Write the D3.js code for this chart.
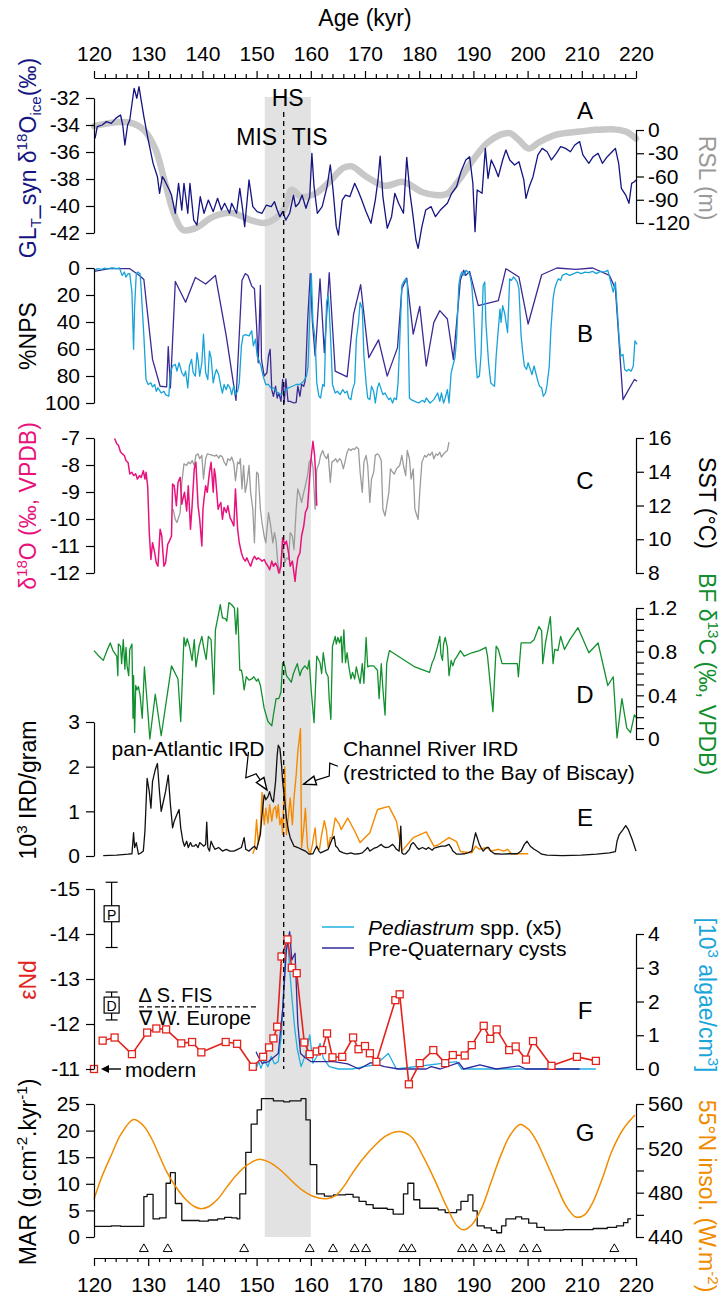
<!DOCTYPE html>
<html>
<head>
<meta charset="utf-8">
<script src="https://cdn.jsdelivr.net/npm/d3@7"></script>
<style>
  html, body { margin: 0; padding: 0; background: #fff; }
  svg { display: block; font-family: "Liberation Sans", Arial, sans-serif; }
  .axis path, .axis line { stroke: #000; stroke-width: 1.2; }
  .axis text { fill: #000; }
</style>
</head>
<body>
<div id="chart"></div>
<script>
// ---- data (age in kyr) ----
const ageMajor = d3.range(120, 221, 10);
const ageMinor = d3.range(120, 221, 2);

// A: GL_T_syn d18O ice (permil) and relative sea level (m)
const glSyn = [[120.2,-34.99],[120.6,-34.12],[121.5,-34.0],[122.3,-33.75],[123.2,-33.88],[124.0,-33.51],[124.9,-33.26],[125.3,-34.0],[125.7,-35.48],[126.2,-34.0],[126.6,-33.63],[127.4,-31.28],[127.9,-32.02],[128.3,-31.16],[128.7,-32.15],[129.2,-33.38],[130.0,-35.11],[130.9,-36.84],[131.7,-37.83],[132.1,-39.06],[132.6,-37.83],[133.0,-38.07],[133.9,-38.81],[134.3,-39.19],[135.0,-40.54],[135.6,-38.32],[136.2,-40.30],[136.6,-38.32],[137.3,-40.54],[137.7,-38.32],[138.4,-41.04],[139.0,-41.41],[139.6,-39.31],[140.3,-40.54],[141.1,-39.56],[142.0,-40.42],[142.8,-39.43],[143.5,-40.30],[144.1,-39.80],[145.0,-40.54],[145.4,-39.80],[146.3,-40.54],[146.9,-38.69],[147.4,-40.17],[147.8,-41.53],[148.6,-38.07],[149.3,-40.05],[150.1,-40.42],[151.0,-40.54],[151.8,-39.93],[152.7,-40.05],[153.3,-39.68],[153.8,-40.30],[154.3,-40.79],[154.8,-40.42],[155.4,-41.04],[156.1,-40.54],[156.8,-39.19],[157.2,-40.05],[157.8,-39.80],[158.4,-39.19],[159.1,-40.17],[159.8,-39.31],[160.2,-36.10],[160.6,-38.57],[161.2,-40.54],[162.1,-40.05],[163.0,-38.57],[163.6,-36.96],[164.1,-38.81],[164.7,-41.53],[165.1,-42.15],[165.8,-39.56],[166.4,-39.19],[167.2,-39.31],[168.1,-38.32],[168.8,-38.94],[169.4,-39.56],[170.2,-40.42],[171.1,-41.28],[171.9,-39.56],[172.4,-38.07],[172.8,-36.30],[173.3,-39.31],[174.1,-41.65],[174.9,-40.79],[175.5,-39.06],[176.2,-39.80],[177.1,-40.54],[177.7,-36.40],[178.3,-39.06],[178.8,-40.54],[179.4,-42.52],[179.8,-43.14],[180.5,-41.53],[181.2,-40.30],[182.2,-40.05],[183.0,-40.79],[183.9,-40.30],[185.2,-39.80],[186.0,-39.06],[186.9,-38.57],[187.7,-37.46],[188.6,-36.59],[189.3,-36.35],[189.9,-38.32],[190.3,-41.90],[190.7,-38.81],[191.6,-39.06],[192.2,-35.73],[192.7,-37.95],[193.3,-36.59],[194.0,-37.21],[194.6,-37.83],[195.4,-36.59],[196.0,-35.85],[196.7,-36.59],[197.6,-36.96],[198.4,-36.72],[199.3,-38.07],[199.7,-39.43],[200.3,-38.57],[201.0,-37.83],[201.9,-36.22],[202.7,-35.73],[203.6,-35.98],[204.4,-36.59],[205.3,-36.10],[206.1,-35.60],[207.0,-35.73],[207.9,-35.98],[208.7,-35.48],[209.6,-35.23],[210.2,-36.22],[211.3,-36.84],[212.1,-36.35],[213.0,-36.10],[213.8,-36.84],[214.7,-36.35],[215.6,-35.98],[216.2,-35.73],[216.8,-36.84],[217.3,-38.69],[218.1,-39.19],[218.7,-39.80],[219.2,-38.32],[219.7,-38.20],[220.0,-38.07]];
const rsl = [[120,5],[124,10],[127,9],[129.2,0],[131.3,-24],[133,-65],[134.7,-107],[136.4,-129],[138.6,-127],[142,-112],[145.4,-107],[148.8,-116],[151.4,-120],[153.5,-114],[155.2,-101],[156.5,-77],[158.2,-86],[160.8,-82],[163.4,-67],[166,-49],[167.6,-47],[170.2,-60],[173.6,-72],[177.1,-67],[180.5,-80],[183,-84],[185.2,-82],[187.3,-65],[189.9,-39],[192.5,-17],[195,-6],[196.7,-4],[198.4,-13],[200.2,-24],[202.3,-15],[205.3,-6],[209.6,-2],[212.1,0],[215.6,1],[218.1,-2],[220,-11]];

// B: %NPS, two records
const npsCyan = [[120.0,1.7],[120.7,0.5],[121.4,1],[122.0,0],[122.4,1],[123.1,0],[123.5,0],[124.2,0.5],[124.7,0],[125.2,5.5],[125.6,3],[125.9,6.7],[126.3,4.2],[126.6,4.2],[127.0,17.9],[127.3,60.2],[127.5,27.9],[127.8,4.2],[128.1,3],[128.5,4.2],[128.7,15.4],[129.2,50.3],[129.6,82.6],[130.0,86.3],[130.5,85.1],[130.8,88.1],[131.2,86.3],[131.5,91.3],[131.8,88.8],[132.4,92.6],[132.9,91.3],[133.2,93.8],[133.8,95],[134.1,77.6],[134.5,72.6],[135.0,71.4],[135.3,76.4],[135.7,70.2],[136.2,77.6],[136.6,80.1],[136.9,76.4],[137.3,88.8],[137.6,72.6],[138.0,67.7],[138.3,77.6],[138.7,80.1],[139.0,62.7],[139.2,67.7],[139.5,80.1],[139.9,70.2],[140.2,49],[140.6,77.6],[141.0,82.6],[141.3,61.5],[141.6,66.4],[142.0,85.1],[142.3,78.9],[142.6,75.1],[143.0,78.9],[143.4,87.6],[143.7,92.6],[144.0,86.3],[144.4,90.1],[144.7,86.3],[145.1,88.8],[145.4,93.8],[145.8,87.1],[146.1,93.8],[146.5,91.3],[146.8,85.1],[147.2,57.7],[147.5,50.3],[147.9,49.3],[148.6,50.3],[149.1,46.5],[149.4,57.7],[149.8,52.7],[150.1,65.2],[150.5,68.9],[150.8,72.6],[151.2,80.1],[151.7,86.3],[152.2,86.3],[152.6,88.8],[153.1,88.8],[153.6,91.3],[154.0,92.6],[154.5,93.8],[155.0,92.6],[155.4,90.1],[155.9,88.8],[156.6,87.6],[157.3,86.3],[158.0,86.3],[158.7,83.8],[159.2,80.1],[159.5,72.6],[159.9,22.9],[160.1,4.2],[160.4,40.3],[160.8,52.7],[161.1,85.1],[161.5,95],[161.8,96.3],[162.2,86.3],[162.5,87.6],[162.9,25.4],[163.2,20.4],[163.4,30.4],[163.8,65.2],[164.0,86.3],[164.5,92.6],[164.9,91.3],[165.4,93.8],[165.9,90.1],[166.3,92.6],[166.7,91.3],[167.0,96.3],[167.4,97.5],[167.7,90.1],[168.1,85.1],[168.4,52.7],[168.8,40.3],[169.1,25.4],[169.5,30.4],[169.8,65.2],[170.2,85.1],[170.5,96.3],[170.9,97.5],[171.2,87.6],[171.6,91.3],[171.9,100],[172.3,88.8],[172.6,85.1],[173.0,90.1],[173.3,93.8],[173.7,92.6],[174.0,95],[174.4,97.5],[174.7,96.3],[175.1,100],[175.4,96.3],[175.8,97.5],[176.1,85.1],[176.4,55.2],[176.8,12.9],[177.1,10.4],[177.5,8],[177.8,10.4],[178.2,96.3],[178.5,97.5],[179.2,98.8],[179.9,100],[180.6,98],[181.0,99.5],[181.3,96.3],[182.0,100],[182.7,97.5],[183.4,92.6],[183.8,98.8],[184.1,92.6],[184.5,100],[184.8,96.3],[185.2,90.1],[185.5,100],[185.9,77.6],[186.2,72.6],[186.6,66.4],[186.9,52.7],[187.3,12.9],[187.6,5.5],[187.9,3],[188.3,5.5],[188.6,1.7],[189.0,3],[189.3,4.2],[189.7,12.9],[190.0,30.4],[190.4,65.2],[190.7,81.3],[191.1,80.1],[191.4,65.2],[191.8,12.9],[192.1,10.4],[192.3,40.3],[192.8,70.2],[193.2,85.1],[193.5,86.3],[193.9,87.6],[194.2,65.2],[194.6,45.3],[194.9,30.4],[195.1,40.3],[195.4,27.9],[195.8,34.1],[196.3,47.8],[196.7,8],[197.0,9.2],[197.4,6.7],[197.7,8],[198.1,10.4],[198.4,15.4],[198.8,50.3],[199.1,62.7],[199.4,72.6],[199.8,75.1],[200.1,70.2],[200.5,75.1],[200.8,78.9],[201.2,72.6],[201.5,77.6],[201.9,83.8],[202.2,87.6],[202.6,88.8],[202.9,95],[203.3,92.6],[203.6,86.3],[204.0,72.6],[204.3,45.3],[204.7,22.9],[205.0,15.4],[205.4,10.4],[205.7,8],[206.1,9.2],[206.4,5.5],[207.1,4.2],[207.8,5.5],[208.5,4.2],[209.2,3],[209.9,4.2],[210.6,3],[211.3,3.5],[212.0,2.5],[212.7,4.2],[213.4,2.5],[214.1,3],[214.8,1.7],[215.5,12.9],[215.8,17.9],[216.2,10.4],[216.5,27.9],[216.9,52.7],[217.2,65.2],[217.6,64],[217.9,75.1],[218.3,76.4],[218.6,75.1],[219.1,76.4],[219.5,72.6],[219.8,54],[220.2,56.5]];
const npsIndigo = [[120,2.5],[122.8,0.5],[126.6,0.5],[128.4,5.5],[129.2,8.5],[130.8,67.7],[132.2,87.6],[133.4,88.1],[133.7,58.2],[134.1,88.8],[135.0,10],[136.9,25.4],[138.7,7],[140.6,11.9],[142.4,5.5],[144.4,50.3],[146.2,98],[147.3,9.2],[147.9,4.2],[148.4,5.5],[149.1,13.4],[149.6,15.4],[150.0,42.8],[150.3,70.2],[150.7,12.9],[150.9,67.7],[151.4,80.1],[151.9,77.6],[152.2,65.2],[152.5,60.2],[152.8,90.1],[153.1,95],[153.5,87.6],[153.8,96.3],[154.1,92.6],[154.5,98.8],[154.8,82.6],[155.1,100],[155.4,82.1],[155.8,98.8],[156.2,98.8],[156.9,100],[157.3,99.5],[157.6,87.6],[158.0,95],[158.3,86.3],[158.7,87.6],[159.0,82.6],[159.4,40.3],[159.9,4.2],[160.3,40.3],[160.8,65.2],[161.7,8],[162.5,62.7],[163.4,3.5],[164.5,76.4],[166.7,80.6],[167.9,34.1],[169.2,12.4],[170.7,66.4],[172.5,53.2],[174.1,80.1],[176.0,59],[176.8,15.4],[177.7,7.5],[178.9,49],[180.1,28.4],[181.3,72.6],[182.7,40.3],[183.8,31.6],[185.2,37.8],[186.3,67.7],[187.6,9.2],[188.2,1.7],[188.6,5.5],[189.3,2.5],[190.9,27.9],[194.6,24.1],[196.0,0.5],[198.4,6.7],[200.1,41.5],[202.6,5],[205.4,0],[208.9,1],[212.0,0],[215.1,5.5],[216.2,15.4],[217.6,97.5],[219.7,82.6],[220.2,83.8]];

// C: planktonic d18O (permil VPDB) and SST (degC)
const d18O = [[123.8,-7.02],[124.2,-7.21],[124.5,-7.27],[124.9,-7.52],[125.2,-7.58],[125.6,-7.65],[125.9,-7.83],[126.3,-7.92],[126.6,-8.33],[127.0,-8.27],[127.3,-8.39],[127.7,-8.33],[128.0,-8.52],[128.4,-8.39],[128.7,-8.46],[129.1,-8.21],[129.4,-8.52],[129.6,-8.27],[129.9,-8.77],[130.2,-10.51],[130.5,-11.50],[130.8,-10.88],[131.2,-11.25],[131.5,-11.63],[131.8,-11.75],[132.2,-10.38],[132.5,-10.63],[132.9,-11.75],[133.2,-11.63],[133.6,-10.94],[133.9,-10.82],[134.3,-10.63],[134.5,-8.70],[134.8,-8.77],[135.2,-9.51],[135.5,-8.64],[135.9,-8.46],[136.2,-9.45],[136.4,-9.26],[136.7,-9.01],[137.1,-9.70],[137.4,-8.77],[137.8,-10.38],[138.1,-9.51],[138.5,-8.14],[138.8,-7.90],[139.2,-9.51],[139.5,-10.01],[139.9,-11.00],[140.1,-9.64],[140.3,-9.26],[140.6,-8.77],[140.9,-9.01],[141.3,-8.27],[141.6,-7.90],[142.0,-9.01],[142.2,-8.14],[142.4,-8.39],[142.9,-9.64],[143.1,-9.51],[143.4,-9.39],[143.7,-10.01],[144.0,-9.57],[144.4,-9.76],[144.7,-9.51],[145.1,-9.95],[145.4,-10.07],[145.8,-10.26],[146.1,-8.89],[146.5,-10.38],[146.8,-10.88],[147.2,-11.25],[147.5,-11.44],[147.9,-11.56],[148.2,-11.44],[148.6,-11.63],[148.9,-11.75],[149.3,-11.50],[149.6,-11.38],[150.0,-11.50],[150.3,-11.44],[150.7,-11.50],[151.0,-11.56],[151.4,-11.50],[151.7,-11.63],[152.1,-11.75],[152.4,-11.88],[152.8,-11.56],[153.1,-11.75],[153.5,-11.63],[153.8,-11.75],[154.1,-12.00],[154.5,-11.75],[154.8,-10.69],[155.2,-10.94],[155.5,-10.82],[155.9,-11.25],[156.2,-11.75],[156.6,-11.56],[157.1,-12.31],[157.3,-11.88],[157.6,-11.44],[158.0,-11.25],[158.3,-10.63],[158.7,-10.26],[159.0,-9.76],[159.4,-9.57],[159.6,-9.01],[159.9,-8.14],[160.1,-7.65],[160.4,-7.12],[160.7,-7.65],[160.9,-8.39],[161.1,-9.51]];
const sst = [[134.6,11.78],[135.0,11.18],[135.3,10.99],[135.9,11.58],[136.2,13.37],[136.6,14.47],[137.1,14.37],[137.4,14.57],[137.8,14.47],[138.1,14.67],[138.5,14.37],[138.8,14.97],[139.2,15.06],[139.5,14.77],[139.9,14.97],[140.2,13.57],[140.6,14.77],[140.9,15.06],[141.6,15.0],[142.3,14.93],[142.6,15.0],[143.0,14.81],[143.3,14.97],[143.7,14.87],[144.0,14.57],[144.4,14.37],[144.7,14.77],[145.1,14.67],[145.4,14.87],[145.8,14.47],[146.1,13.47],[146.5,14.57],[146.8,14.47],[147.0,14.77],[147.3,12.98],[147.6,14.37],[147.9,12.78],[148.2,13.27],[148.6,14.37],[148.9,12.78],[149.3,11.78],[149.6,9.79],[150.0,13.97],[150.3,13.87],[150.7,11.78],[151.0,10.99],[151.4,10.19],[151.7,9.79],[152.2,11.58],[152.6,10.79],[153.0,9.79],[153.3,10.39],[153.6,9.89],[153.9,8.60],[154.3,8.0],[154.6,8.99],[154.8,9.59],[155.2,8.60],[155.5,8.90],[155.9,8.80],[156.2,10.39],[156.6,10.19],[156.9,9.39],[157.3,11.78],[157.6,12.98],[158.0,12.58],[158.3,12.18],[158.7,12.78],[159.0,13.17],[159.4,13.77],[159.7,14.57],[160.1,14.77],[160.4,14.27],[160.8,11.78],[161.1,14.17],[161.5,14.47],[161.8,14.97],[162.2,15.26],[162.5,14.97],[162.9,14.77],[163.2,15.06],[163.6,13.37],[163.9,14.57],[164.3,14.67],[164.6,14.77],[164.9,14.57],[165.3,14.77],[165.6,14.67],[166.0,14.17],[166.3,14.57],[166.7,15.16],[167.0,15.36],[167.4,15.26],[167.7,15.36],[168.1,15.32],[168.4,15.46],[168.8,15.36],[169.1,13.97],[169.5,12.78],[169.8,14.57],[170.2,14.97],[170.5,14.37],[170.9,12.18],[171.2,13.57],[171.6,13.97],[171.9,14.97],[172.3,15.06],[172.6,14.97],[173.0,14.67],[173.3,11.78],[173.7,11.38],[174.0,11.98],[174.4,12.78],[174.7,14.17],[175.1,13.97],[175.4,13.87],[175.8,14.17],[176.1,14.27],[176.4,14.37],[176.8,14.97],[177.1,14.37],[177.5,13.77],[177.8,15.26],[178.2,14.77],[178.5,13.57],[178.9,14.17],[179.2,11.78],[179.6,11.38],[179.8,11.18],[180.1,12.78],[180.5,14.57],[181.0,14.97],[181.3,14.87],[181.7,15.06],[182.0,14.97],[182.4,15.16],[182.7,14.77],[183.1,15.06],[183.4,14.97],[183.8,15.16],[184.1,14.87],[184.5,15.06],[184.8,15.16],[185.2,15.26],[185.5,15.76]];

// D: benthic foram d13C (permil VPDB)
const bfD13C = [[120.0,0.81],[120.7,0.77],[121.7,0.72],[122.4,0.81],[123.0,0.88],[123.5,0.81],[124.2,0.76],[124.4,0.58],[124.5,0.87],[124.9,0.85],[125.1,0.69],[125.4,0.91],[125.7,0.64],[125.9,0.84],[126.1,0.67],[126.4,0.58],[126.6,0.82],[127.0,0.87],[127.2,0.19],[127.3,0.58],[127.5,0.06],[127.7,0.49],[127.9,0.45],[128.2,0.48],[128.5,0.40],[128.9,0.19],[129.3,0.66],[129.8,0.34],[130.3,0.0],[131.3,0.41],[132.4,0.03],[134.3,0.67],[135.5,0.55],[136.0,0.16],[136.6,0.93],[136.9,0.85],[137.2,0.92],[137.6,0.85],[138.1,0.72],[138.5,0.91],[138.8,0.66],[139.4,0.85],[139.9,0.94],[140.3,0.82],[140.7,0.73],[141.1,0.94],[141.6,0.91],[142.1,0.41],[142.4,1.0],[143.0,1.15],[143.3,1.23],[143.7,1.11],[144.3,1.10],[144.5,1.08],[144.9,1.25],[145.4,1.23],[145.9,1.2],[146.2,0.96],[146.5,1.2],[146.9,0.63],[147.2,0.63],[147.4,0.58],[147.7,0.45],[148.1,0.57],[148.6,0.54],[149.1,0.55],[149.5,0.57],[150.0,0.53],[150.3,0.55],[150.7,0.49],[151.4,0.28],[152.1,0.16],[152.8,0.12],[153.1,0.22],[153.6,0.37],[154.1,0.37],[154.5,0.43],[154.8,0.70],[155.2,0.67],[155.5,0.58],[156.4,0.52],[156.8,0.60],[157.5,0.69],[158.0,0.58],[158.3,0.63],[158.9,0.67],[159.4,0.64],[159.7,0.72],[160.1,0.43],[160.6,0.15],[161.1,0.76],[161.7,0.70],[162.0,0.60],[162.3,0.79],[162.8,0.61],[163.2,0.57],[163.4,0.36],[163.7,0.18],[164.0,0.85],[164.5,0.94],[164.7,0.87],[165.0,0.93],[165.3,0.88],[165.6,0.94],[165.8,0.70],[166.1,1.0],[166.4,0.70],[166.7,0.79],[167.0,0.67],[167.4,0.55],[167.7,0.61],[168.1,0.55],[168.4,0.66],[168.8,0.57],[169.1,0.51],[169.5,0.69],[169.8,0.51],[170.2,0.93],[170.5,0.66],[170.9,0.67],[171.6,0.67],[172.3,0.63],[172.6,0.37],[173.0,0.69],[173.3,0.46],[173.7,0.22],[174.0,0.69],[174.5,0.81],[179.2,0.66],[181.9,0.61],[182.4,0.70],[182.7,0.73],[183.4,0.85],[183.8,0.94],[184.0,0.78],[184.3,0.72],[184.5,0.87],[184.8,0.93],[185.2,0.84],[185.5,0.58],[185.9,0.72],[186.2,0.67],[186.6,0.73],[186.9,0.75],[187.6,0.81],[188.3,0.76],[189.7,0.79],[191.1,0.81],[192.3,0.84],[192.6,0.76],[193.6,0.25],[194.2,0.85],[194.6,0.82],[195.3,0.69],[198.1,0.69],[198.3,0.57],[198.8,0.88],[199.1,0.88],[200.5,0.88],[201.2,0.91],[202.1,1.03],[202.6,0.99],[202.8,0.69],[203.3,0.88],[204.2,1.12],[204.7,0.69],[205.0,0.82],[205.6,0.81],[206.1,0.94],[206.8,0.82],[207.8,0.91],[209.3,1.02],[211.3,0.79],[213.0,0.88],[214.8,0.49],[215.8,0.57],[216.5,0.01],[217.4,0.37],[218.3,0.10],[219.0,0.06],[219.7,0.22],[220.2,0.19]];

// E: IRD (10^3 grains/gram)
const irdPan = [[121.7,0.01],[124.2,0.02],[126.3,0.04],[127.0,0.05],[127.3,0.52],[127.5,0.19],[127.8,0.30],[128.2,0.04],[128.7,0.07],[129.1,0.11],[129.4,0.56],[129.8,1.74],[130.2,1.44],[130.5,1.07],[130.8,1.67],[131.3,1.93],[131.7,2.07],[132.1,1.41],[132.4,1.0],[132.8,1.22],[133.2,1.44],[133.7,1.81],[134.1,1.15],[134.5,0.63],[134.8,0.78],[135.3,0.93],[135.7,1.04],[136.0,0.63],[136.4,0.33],[136.7,0.22],[137.1,0.33],[137.4,0.19],[137.8,0.30],[138.1,0.22],[138.5,0.22],[138.8,0.26],[139.2,0.19],[139.5,0.30],[139.9,0.26],[140.2,0.22],[140.6,0.26],[140.8,0.76],[141.0,0.19],[141.3,0.11],[141.6,0.33],[142.0,0.22],[142.3,0.15],[143.0,0.19],[143.7,0.11],[144.4,0.15],[145.1,0.11],[145.8,0.11],[146.5,0.15],[147.2,0.19],[147.7,0.41],[148.0,0.15],[148.6,0.11],[149.3,0.19],[149.6,0.22],[150.0,0.15],[150.3,0.30],[150.7,0.48],[151.0,0.93],[151.4,1.37],[151.7,1.26],[152.1,1.33],[152.4,1.44],[152.8,1.26],[153.1,1.21],[153.5,1.67],[153.8,2.26],[154.0,2.48],[154.3,2.41],[154.6,2.04],[154.8,1.67],[155.2,1.22],[155.5,0.85],[155.9,0.56],[156.2,0.41],[156.6,0.30],[156.9,0.22],[157.6,0.19],[158.3,0.15],[159.0,0.11],[159.7,0.04],[160.4,0.05],[160.8,0.15],[161.1,0.22],[161.5,0.11],[161.8,0.07],[162.5,0.11],[163.2,0.15],[163.9,0.37],[164.3,0.44],[164.6,0.22],[164.9,0.19],[165.3,0.11],[166.0,0.07],[166.7,0.05],[167.4,0.07],[168.1,0.04],[168.8,0.05],[169.5,0.07],[170.2,0.15],[170.5,0.19],[170.9,0.11],[171.6,0.17],[172.3,0.20],[173.0,0.26],[173.3,0.22],[173.7,0.19],[174.4,0.20],[175.1,0.26],[175.4,0.22],[175.8,0.15],[176.3,0.11],[176.6,0.67],[176.8,0.07],[177.1,0.04],[177.5,0.05],[178.2,0.15],[178.5,0.26],[178.9,0.30],[179.2,0.26],[179.6,0.19],[179.9,0.15],[180.6,0.19],[181.3,0.15],[181.7,0.19],[182.4,0.13],[182.7,0.17],[183.1,0.19],[183.4,0.20],[184.1,0.22],[184.8,0.22],[185.5,0.26],[185.9,0.19],[186.2,0.11],[186.6,0.07],[186.9,0.04],[187.6,0.04],[188.3,0.05],[189.0,0.07],[189.7,0.11],[190.0,0.30],[190.4,0.52],[190.7,0.41],[191.1,0.26],[191.4,0.19],[191.8,0.11],[192.1,0.15],[192.5,0.19],[192.8,0.19],[193.2,0.11],[193.9,0.05],[195.3,0.04],[196.7,0.05],[198.1,0.05],[198.8,0.11],[199.4,0.26],[199.9,0.33],[200.5,0.22],[201.2,0.15],[201.9,0.10],[202.6,0.04],[203.6,0.02],[206.4,0.01],[209.9,0.02],[212.7,0.04],[215.1,0.07],[216.2,0.10],[216.5,0.33],[216.9,0.48],[217.6,0.59],[218.1,0.68],[218.6,0.59],[219.3,0.37],[220.0,0.11]];
const irdChannel = [[149.3,0.05],[149.6,0.15],[150.0,0.81],[150.3,0.26],[150.7,0.63],[151.0,1.42],[151.4,0.70],[151.7,1.07],[152.1,0.74],[152.4,1.15],[152.8,0.78],[153.1,1.04],[153.5,1.11],[153.7,0.85],[154.0,1.15],[154.3,0.70],[154.6,0.85],[154.8,0.48],[155.2,2.0],[155.5,0.48],[155.9,0.93],[156.2,1.30],[156.6,0.70],[156.9,1.30],[157.3,1.81],[157.6,2.33],[158.1,2.85],[158.3,0.19],[158.7,0.63],[159.0,1.07],[159.4,0.19],[159.9,0.04],[160.3,0.26],[160.8,0.63],[161.1,0.19],[161.6,0.15],[162.0,0.48],[162.5,0.79],[162.9,0.56],[163.2,0.19],[163.6,0.41],[163.9,0.41],[164.5,0.85],[165.3,0.70],[165.6,0.59],[166.8,0.85],[168.1,0.56],[169.1,0.30],[170.9,0.52],[172.3,1.04],[174.4,1.11],[175.8,0.78],[176.8,0.11],[178.9,0.41],[181.3,0.54],[182.7,0.22],[183.4,0.24],[185.5,0.41],[186.9,0.32],[187.6,0.10],[189.7,0.07],[190.4,0.22],[191.1,0.15],[192.5,0.19],[193.2,0.11],[194.6,0.15],[195.6,0.11],[196.3,0.15],[197.0,0.05],[200.1,0.05]];

// F: eNd and algae (10^3 /cm3)
const ndModern = [120, -11.0];
const epsNd = [[121.6,-11.63],[123.8,-11.70],[127.0,-11.33],[129.8,-11.81],[131.5,-11.90],[133.3,-11.88],[136.1,-11.57],[138.1,-11.60],[139.8,-11.37],[144.3,-11.60],[146.4,-11.56],[149.3,-11.05],[151.2,-11.27],[152.3,-11.48],[153.1,-11.68],[153.8,-11.94],[154.6,-13.50],[155.7,-13.88],[156.5,-13.25],[157.4,-13.13],[158.8,-11.59],[159.8,-11.33],[161.1,-11.39],[162.1,-11.42],[163.0,-11.79],[164.0,-11.26],[165.8,-11.27],[167.8,-11.70],[168.8,-11.44],[170.0,-11.51],[170.9,-11.35],[172.1,-11.16],[175.6,-12.53],[176.4,-12.66],[178.1,-10.66],[180.1,-11.13],[182.6,-11.42],[184.8,-11.13],[186.2,-11.31],[188.4,-11.30],[189.7,-11.53],[191.9,-11.96],[193.1,-11.67],[194.3,-11.88],[196.6,-11.42],[197.8,-11.50],[199.7,-11.21],[201.0,-11.62],[204.4,-11.07],[209.1,-11.27],[212.6,-11.18]];
const pediastrum = [[149.9,0],[150.4,0.22],[150.8,0.02],[151.4,0.27],[152.1,0.07],[152.7,0.37],[153.3,0.15],[154.0,0.22],[154.6,1.06],[155.1,2.74],[155.4,3.62],[155.8,3.67],[156.2,2.74],[156.5,2.14],[157.0,1.25],[157.5,0.6],[158.2,0.07],[159.1,0.46],[159.8,1.01],[160.4,0.17],[161.1,0.37],[161.7,0.76],[162.3,0.32],[163.4,0.07],[165.1,0],[167.6,0],[169.8,0.07],[171.9,0.12],[174.3,0.46],[175.8,0],[186.9,0.22],[187.8,0],[212.6,0]];
const preQuatCysts = [[149.9,0.51],[150.3,0.37],[151.0,0.17],[152.2,0.22],[154.0,0.46],[154.8,1.75],[155.5,3.53],[156.1,4.07],[156.5,3.23],[157.1,3.43],[157.6,1.35],[158.1,0.46],[158.7,0.37],[160.0,0.22],[161.7,0.22],[164.2,0.22],[166.8,0.15],[168.9,0],[171.1,0.19],[173.6,0.07],[176.2,0],[181.3,0],[182.2,0.07],[183.9,0],[187.3,0.19],[188.2,0],[191.2,0.12],[194.2,0],[198.4,0.09],[199.7,0],[209.6,0]];
const endMembers = [
  { label: "P", age: 123.25, mid: -14.45, lo: -15.15, hi: -13.7 },
  { label: "D", age: 123.25, mid: -12.42, lo: -12.71, hi: -12.09 }
];
const fisThreshold = { value: -12.38, from: 128.3, to: 150.1 };

// G: mass accumulation rate (g/cm2/kyr) and 55N insolation (W/m2)
const mar = [[120,2.0],[123.2,2.1],[124.9,2.0],[129.2,7.6],[129.8,8.0],[130.9,3.4],[132.1,3.6],[133.3,10.1],[134.1,12.1],[135.0,6.3],[136.2,3.1],[139.4,3.0],[141.1,3.2],[142.8,3.4],[144.1,3.7],[145.4,3.6],[146.4,3.4],[146.9,8.1],[148.0,15.9],[149.0,21.2],[150.1,23.9],[150.9,26.0],[153.1,25.6],[155.0,25.4],[156.1,25.6],[158.2,26.0],[159.1,22.0],[159.9,13.6],[161.1,8.1],[162.5,7.7],[164.2,7.9],[166.4,8.0],[167.8,7.5],[168.9,6.7],[170.2,6.1],[171.5,5.4],[174.1,5.2],[175.2,4.3],[177.1,8.1],[177.9,10.1],[179.0,7.0],[180.1,5.4],[183.5,5.1],[184.8,4.6],[186.9,5.1],[187.7,6.7],[189.0,7.9],[189.9,4.9],[190.7,2.1],[192.0,1.7],[193.3,1.25],[194.3,0.8],[195.2,2.1],[196.0,3.4],[197.8,3.8],[198.9,3.4],[200.2,2.6],[201.7,1.8],[203.1,1.3],[206.6,1.4],[212.1,1.6],[214.7,1.8],[216.4,2.1],[217.7,2.7],[218.5,3.4],[219.1,3.4]];
const insolation = [[120,474],[121.5,495],[123.2,514],[125,533],[127.3,546],[129,541],[130.5,530],[132,514],[133.4,499],[135,486],[136.9,474],[138.5,467.5],[139.8,465.5],[141.2,467.5],[142.8,474],[144.5,485],[146.3,496],[148.3,505],[150.3,510],[152.3,507.5],[154.5,500],[156.5,490.5],[158.5,482],[160.5,476.5],[162.9,474.5],[164.5,477],[166,485],[167.6,497],[169.7,511],[171.9,523],[173.8,531],[175.8,535],[177.4,534],[178.8,529],[180.8,512],[183,490],[185.2,466],[187,450],[188.2,446.5],[189.7,451],[191.6,467],[193.3,490],[195,513],[196.8,532],[198.6,541.5],[200.2,537],[201.6,527],[203.5,507],[205.3,487],[207.1,468],[208.9,458],[210.5,460],[212.1,472],[213.8,493],[215.6,518],[217.6,537],[219.8,550]];
const ageControl = [129.2,133.6,147.7,159.8,164.1,168.1,170.2,177.1,178.6,187.9,189.9,192.6,195.0,199.3,201.7,216.0];

// shaded interval and Heinrich stadial line
const bandAges = [151.5, 160];
const hsAge = 155;

// ---- drawing ----
const width = 723, height = 1303;
const fontFamily = '"Liberation Sans", Arial, sans-serif';
const svg = d3.select("#chart").append("svg")
  .attr("width", width).attr("height", height)
  .attr("viewBox", `0 0 ${width} ${height}`);

const x = d3.scaleLinear().domain([120, 220]).range([94, 636]);
const yA = d3.scaleLinear().domain([-32, -42]).range([98, 233]);
const yRSL = d3.scaleLinear().domain([0, -120]).range([130, 223]);
const yB = d3.scaleLinear().domain([0, 100]).range([268, 403]);
const yC = d3.scaleLinear().domain([-7, -12]).range([438, 573]);
const ySST = d3.scaleLinear().domain([16, 8]).range([438, 573]);
const yD = d3.scaleLinear().domain([1.2, 0]).range([608, 739]);
const yE = d3.scaleLinear().domain([3, 0]).range([722, 856]);
const yF = d3.scaleLinear().domain([-15, -11]).range([889, 1069]);
const yAlg = d3.scaleLinear().domain([4, 0]).range([934, 1069]);
const yG = d3.scaleLinear().domain([25, 0]).range([1104, 1237]);
const yIns = d3.scaleLinear().domain([560, 440]).range([1104, 1237]);

// grey band
svg.append("rect")
  .attr("x", x(bandAges[0]))
  .attr("y", 97)
  .attr("width", x(bandAges[1]) - x(bandAges[0]))
  .attr("height", yG(0) - 97)
  .attr("fill", "#e2e2e2");

function drawLine(data, y, color, w = 1.3, curve = d3.curveLinear) {
  return svg.append("path")
    .datum(data)
    .attr("fill", "none")
    .attr("stroke", color)
    .attr("stroke-width", w)
    .attr("stroke-linejoin", "round")
    .attr("d", d3.line().curve(curve).x(d => x(d[0])).y(d => y(d[1])));
}

// A
drawLine(rsl, yRSL, "#c8c8c8", 6.5, d3.curveCatmullRom.alpha(0.5)).attr("stroke-linecap", "round");
drawLine(glSyn, yA, "#141482", 1.3);
// B
drawLine(npsIndigo, yB, "#3b2a96", 1.3);
drawLine(npsCyan, yB, "#17a3d8", 1.3);
// C
drawLine(sst, ySST, "#9b9b9b", 1.3);
drawLine(d18O, yC, "#e8127c", 1.5);
// D
drawLine(bfD13C, yD, "#12902f", 1.3);
// E
drawLine(irdChannel, yE, "#f58a00", 1.4);
drawLine(irdPan, yE, "#111", 1.3);
// F
drawLine(pediastrum, yAlg, "#22aee0", 1.3);
drawLine(preQuatCysts, yAlg, "#2e2a9c", 1.3);
drawLine(epsNd, yF, "#e3241d", 1.6);
svg.append("g").selectAll("rect")
  .data(epsNd.concat([ndModern]))
  .join("rect")
  .attr("x", d => x(d[0]) - 3.5)
  .attr("y", d => yF(d[1]) - 3.5)
  .attr("width", 7).attr("height", 7)
  .attr("fill", "#fff")
  .attr("stroke", "#e3241d")
  .attr("stroke-width", 1.3);
// G
drawLine(mar, yG, "#111", 1.3, d3.curveStepAfter);
drawLine(insolation, yIns, "#f08c00", 1.5, d3.curveCatmullRom.alpha(0.5));
svg.append("g").selectAll("path")
  .data(ageControl)
  .join("path")
  .attr("transform", d => `translate(${x(d)},1249)`)
  .attr("d", d3.symbol(d3.symbolTriangle).size(34))
  .attr("fill", "#fff")
  .attr("stroke", "#000")
  .attr("stroke-width", 1);

// ---- axes ----
const fmt = d => String(d);
function styleAxis(g) {
  g.attr("class", "axis").attr("font-size", 21).attr("font-family", fontFamily);
}
function leftAxis(scale, ticks, labels = ticks) {
  svg.append("g")
    .attr("transform", `translate(${x(120)},0)`)
    .call(d3.axisLeft(scale).tickValues(ticks).tickSize(8).tickPadding(6).tickSizeOuter(0)
      .tickFormat(d => labels.includes(d) ? fmt(d) : ""))
    .call(styleAxis);
}
function rightAxis(scale, ticks, labels = ticks) {
  svg.append("g")
    .attr("transform", `translate(${x(220)},0)`)
    .call(d3.axisRight(scale).tickValues(ticks).tickSize(8).tickPadding(4).tickSizeOuter(0)
      .tickFormat(d => labels.includes(d) ? fmt(d) : ""))
    .call(styleAxis);
}

leftAxis(yA, [-32, -34, -36, -38, -40, -42]);
rightAxis(yRSL, [0, -30, -60, -90, -120]);
leftAxis(yB, [0, 20, 40, 60, 80, 100]);
leftAxis(yC, [-7, -8, -9, -10, -11, -12]);
rightAxis(ySST, [16, 14, 12, 10, 8]);
rightAxis(yD, d3.range(0, 13).map(i => +(i / 10).toFixed(1)), [0, 0.4, 0.8, 1.2]);
leftAxis(yE, [0, 1, 2, 3]);
leftAxis(yF, [-15, -14, -13, -12, -11]);
rightAxis(yAlg, [0, 1, 2, 3, 4]);
leftAxis(yG, [0, 5, 10, 15, 20, 25]);
rightAxis(yIns, [440, 460, 480, 500, 520, 540, 560], [440, 480, 520, 560]);

const topAxis = svg.append("g")
  .attr("transform", "translate(0,78)")
  .call(d3.axisTop(x).tickValues(ageMinor).tickSize(4).tickPadding(10).tickSizeOuter(0)
    .tickFormat(d => d % 10 === 0 ? fmt(d) : ""))
  .call(styleAxis);
topAxis.selectAll(".tick").filter(d => d % 10 === 0).select("line").attr("y2", -7);
topAxis.selectAll(".tick").filter(d => d % 10 === 0).select("text").attr("y", -17);

const bottomAxis = svg.append("g")
  .attr("transform", "translate(0,1258)")
  .call(d3.axisBottom(x).tickValues(ageMinor).tickSize(4).tickPadding(12).tickSizeOuter(0)
    .tickFormat(d => d % 10 === 0 ? fmt(d) : ""))
  .call(styleAxis);
bottomAxis.selectAll(".tick").filter(d => d % 10 === 0).select("line").attr("y2", 8);
bottomAxis.selectAll(".tick").filter(d => d % 10 === 0).select("text").attr("y", 19);

// dashed HS line
svg.append("line")
  .attr("x1", x(hsAge)).attr("x2", x(hsAge))
  .attr("y1", 112).attr("y2", yF(-11))
  .attr("stroke", "#000").attr("stroke-width", 1.3)
  .attr("stroke-dasharray", "5,4");

// ---- text ----
function addText(tx, ty, str, opts = {}) {
  return svg.append("text")
    .attr("x", tx).attr("y", ty)
    .attr("font-family", fontFamily)
    .attr("font-size", opts.size || 21)
    .attr("fill", opts.color || "#000")
    .attr("text-anchor", opts.anchor || "start")
    .attr("dominant-baseline", "central")
    .text(str);
}
function richTitle(tx, ty, rot, color, parts, size = 23) {
  const t = svg.append("text")
    .attr("transform", `translate(${tx},${ty}) rotate(${rot})`)
    .attr("font-family", fontFamily)
    .attr("font-size", size)
    .attr("fill", color)
    .attr("text-anchor", "middle");
  let shift = 0;
  parts.forEach(([s, k]) => {
    const target = k === "sup" ? -9 : k === "sub" ? 5 : 0;
    const ts = t.append("tspan").attr("dy", target - shift).text(s);
    if (k !== "n") ts.attr("font-size", size * 0.66);
    shift = target;
  });
  return t;
}

addText(x(170), 18, "Age (kyr)", { size: 23, anchor: "middle" });

richTitle(36, 158, -90, "#141482", [["GL", "n"], ["T", "sub"], ["_syn δ", "n"], ["18", "sup"], ["O", "n"], ["ice", "sub"], ["(‰)", "n"]]);
richTitle(699, 178, 90, "#9a9a9a", [["RSL (m)", "n"]]);
richTitle(36, 336, -90, "#000", [["%NPS", "n"]]);
richTitle(36, 506, -90, "#e8127c", [["δ", "n"], ["18", "sup"], ["O (‰, VPDB)", "n"]]);
richTitle(699, 503, 90, "#000", [["SST (°C)", "n"]]);
richTitle(699, 674, 90, "#12902f", [["BF δ", "n"], ["13", "sup"], ["C (‰, VPDB)", "n"]]);
richTitle(36, 790, -90, "#000", [["10", "n"], ["3", "sup"], [" IRD/gram", "n"]]);
richTitle(36, 980, -90, "#e3241d", [["εNd", "n"]]);
richTitle(699, 995, 90, "#1aa6da", [["[10", "n"], ["3", "sup"], [" algae/cm", "n"], ["3", "sup"], ["]", "n"]]);
richTitle(36, 1172, -90, "#000", [["MAR (g.cm", "n"], ["-2", "sup"], [".kyr", "n"], ["-1", "sup"], [")", "n"]]);
richTitle(699, 1196, 90, "#f08c00", [["55°N insol. (W.m", "n"], ["-2", "sup"], [")", "n"]]);

// panel letters
[["A", 110], ["B", 333], ["C", 480], ["D", 694], ["E", 817], ["F", 1010], ["G", 1132]]
  .forEach(([l, ly]) => addText(585, ly, l, { size: 24, anchor: "middle" }));

addText(x(hsAge) + 4, 98, "HS", { size: 23, anchor: "middle" });
addText(x(hsAge) - 27, 137, "MIS", { size: 23, anchor: "middle" });
addText(x(hsAge) + 26, 137, "TIS", { size: 23, anchor: "middle" });

// E annotations
addText(188, 748, "pan-Atlantic IRD", { anchor: "middle" });
addText(343, 748, "Channel River IRD");
addText(343, 772, "(restricted to the Bay of Biscay)");

function openArrow(points, y) {
  const pts = points.map(p => [x(p[0]), y(p[1])]);
  svg.append("path")
    .attr("d", d3.line()(pts))
    .attr("fill", "none").attr("stroke", "#000").attr("stroke-width", 1.2);
  const [p1, p2] = pts.slice(-2);
  const ang = Math.atan2(p2[1] - p1[1], p2[0] - p1[0]);
  const L = 12, hw = 4.5;
  const bx = p2[0] - L * Math.cos(ang), by = p2[1] - L * Math.sin(ang);
  const nx = -Math.sin(ang) * hw, ny = Math.cos(ang) * hw;
  svg.append("path")
    .attr("d", `M${p2[0]},${p2[1]}L${bx + nx},${by + ny}L${bx - nx},${by - ny}Z`)
    .attr("fill", "#fff").attr("stroke", "#000").attr("stroke-width", 1.4);
}
openArrow([[148.5, 2.33], [148.0, 1.75], [149.9, 1.84], [151.9, 1.48]], yE);
openArrow([[165.0, 2.01], [163.5, 2.08], [163.4, 1.79], [158.7, 1.61]], yE);

// F annotations: end-member boxes
endMembers.forEach(m => {
  const cx = x(m.age);
  svg.append("line").attr("x1", cx).attr("x2", cx).attr("y1", yF(m.lo)).attr("y2", yF(m.hi))
    .attr("stroke", "#000").attr("stroke-width", 1.2);
  [m.lo, m.hi].forEach(v => svg.append("line")
    .attr("x1", cx - 6).attr("x2", cx + 6).attr("y1", yF(v)).attr("y2", yF(v))
    .attr("stroke", "#000").attr("stroke-width", 1.2));
  svg.append("rect").attr("x", cx - 7.5).attr("y", yF(m.mid) - 8).attr("width", 15).attr("height", 16)
    .attr("fill", "#fff").attr("stroke", "#000").attr("stroke-width", 1.2);
  addText(cx, yF(m.mid) + 1, m.label, { size: 14, anchor: "middle" });
});
svg.append("line")
  .attr("x1", x(fisThreshold.from)).attr("x2", x(fisThreshold.to))
  .attr("y1", yF(fisThreshold.value)).attr("y2", yF(fisThreshold.value))
  .attr("stroke", "#000").attr("stroke-width", 1.2).attr("stroke-dasharray", "5,3");
addText(x(fisThreshold.from), 995, "∆ S. FIS", { size: 20 });
addText(x(fisThreshold.from), 1018, "∇ W. Europe", { size: 20 });

// modern arrow
svg.append("line").attr("x1", x(ndModern[0]) + 27).attr("x2", x(ndModern[0]) + 12)
  .attr("y1", yF(ndModern[1])).attr("y2", yF(ndModern[1]))
  .attr("stroke", "#000").attr("stroke-width", 1.4);
svg.append("path")
  .attr("d", `M${x(ndModern[0]) + 7},${yF(ndModern[1])}l8,-4l0,8z`)
  .attr("fill", "#000");
addText(x(ndModern[0]) + 31, yF(ndModern[1]), "modern", { size: 21 });

// F legend
const legend = [
  { y: 927, color: "#22aee0", parts: [["Pediastrum", "italic"], [" spp. (x5)", "normal"]] },
  { y: 948, color: "#2e2a9c", parts: [["Pre-Quaternary cysts", "normal"]] }
];
legend.forEach(l => {
  svg.append("line").attr("x1", 322).attr("x2", 354).attr("y1", l.y).attr("y2", l.y)
    .attr("stroke", l.color).attr("stroke-width", 1.5);
  const t = addText(368, l.y, "");
  l.parts.forEach(([s, st]) => t.append("tspan").attr("font-style", st).text(s));
});
</script>
</body>
</html>
